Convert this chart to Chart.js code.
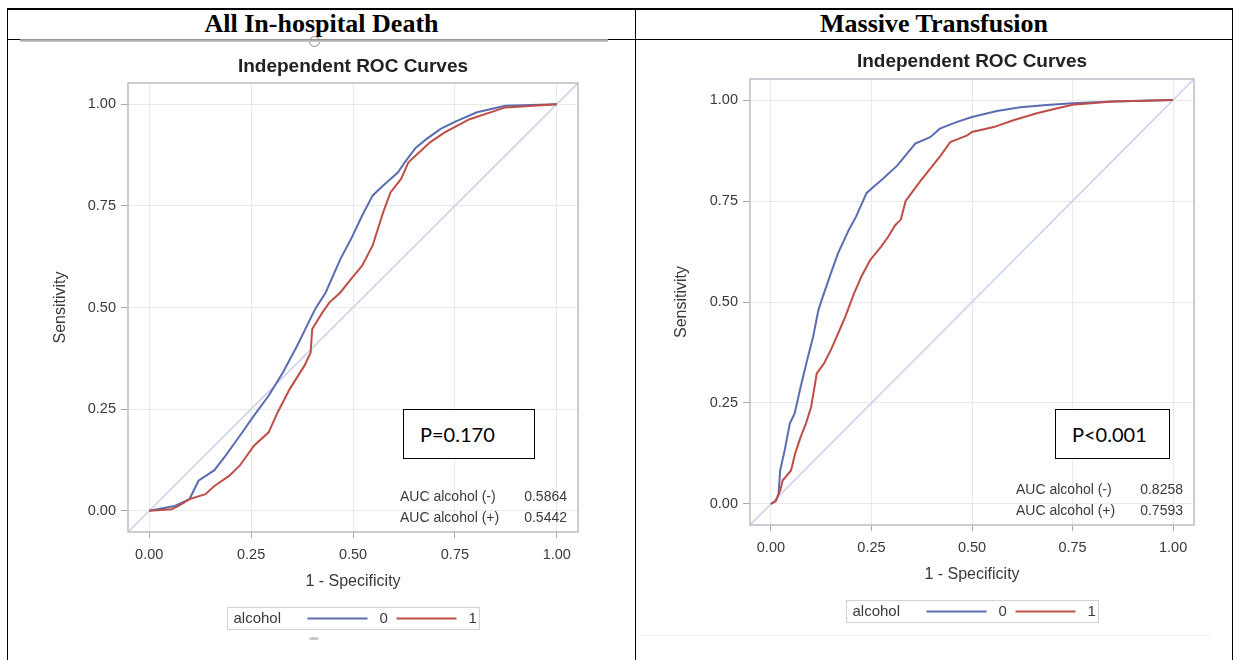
<!DOCTYPE html>
<html>
<head>
<meta charset="utf-8">
<title>Independent ROC Curves</title>
<script src="https://cdn.jsdelivr.net/npm/chart.js@4.4.0/dist/chart.umd.min.js"></script>
<style>
  html, body { margin: 0; padding: 0; background: #fff; }
  body { width: 1235px; height: 660px; position: relative; overflow: hidden; }
  .rule { position: absolute; background: #000; }
  .cell-head {
    position: absolute; top: 9px; height: 30px; line-height: 30px; text-align: center;
    font-family: "Liberation Serif", "Times New Roman", serif; font-weight: bold; font-size: 26px; color: #000;
  }
  .plot { position: absolute; top: 45px; }
  .pbox {
    position: absolute; box-sizing: border-box; border: 1px solid #000; background: #fff;
    font-family: Lato, "Open Sans", sans-serif; font-size: 20px; color: #000; line-height: 48px;
  }
  .handle-bar { position: absolute; left: 20px; top: 39px; width: 588px; height: 3px; background: linear-gradient(#8a8a8a, #d4d4d4); z-index: 2; }
  .handle-dot { position: absolute; left: 309px; top: 36px; width: 9px; height: 9px; border: 1px solid #8a8a8a; border-radius: 50%; background: #fff; z-index: 1; }
  .handle-low { position: absolute; left: 309px; top: 637px; width: 10px; height: 3px; border-radius: 50%; background: #c8c8c8; }
  .faint { position: absolute; left: 640px; top: 635px; width: 570px; height: 1px; background: #eeeeee; }
</style>
</head>
<body>
  <!-- table frame -->
  <div class="rule" style="left:7px; top:8px; width:1226px; height:2px;"></div>
  <div class="rule" style="left:7px; top:39px; width:1226px; height:1px;"></div>
  <div class="rule" style="left:7px; top:8px; width:1px; height:652px;"></div>
  <div class="rule" style="left:635px; top:8px; width:1px; height:652px;"></div>
  <div class="rule" style="left:1232px; top:8px; width:1px; height:652px;"></div>

  <div class="cell-head" style="left:8px; width:627px;">All In-hospital Death</div>
  <div class="cell-head" style="left:636px; width:596px;">Massive Transfusion</div>

  <div class="handle-dot"></div>
  <div class="handle-bar"></div>

  <canvas id="deathChart" class="plot" style="left:40px;" width="560" height="590"></canvas>
  <canvas id="transfusionChart" class="plot" style="left:660px;" width="560" height="590"></canvas>

  <div class="handle-low"></div>
  <div class="faint"></div>

  <div class="pbox" style="left:403px; top:409px; width:132px; height:50px; padding-left:16px;">P=0.170</div>
  <div class="pbox" style="left:1055px; top:409px; width:115px; height:50px; padding-left:16px;">P&lt;0.001</div>

<script>
  // axis ticks shared by both plots
  var tickValues = [0, 0.25, 0.5, 0.75, 1];
  var tickLabels = ["0.00", "0.25", "0.50", "0.75", "1.00"];
  var axisMin = -0.052;
  var axisMax = 1.052;

  var groupLabels = ["0", "1"];
  var aucLabels = ["AUC alcohol (-)", "AUC alcohol (+)"];

  // All in-hospital death: 1 - specificity / sensitivity per alcohol group
  var deathFpr0 = [0, 0.063, 0.099, 0.121, 0.16, 0.187, 0.222, 0.257, 0.293, 0.328, 0.363, 0.407, 0.433, 0.469, 0.495, 0.522, 0.548, 0.574, 0.61, 0.627, 0.654, 0.68, 0.715, 0.751, 0.804, 0.874, 1];
  var deathSens0 = [0, 0.012, 0.029, 0.074, 0.10, 0.135, 0.184, 0.234, 0.283, 0.34, 0.406, 0.496, 0.537, 0.619, 0.668, 0.725, 0.775, 0.80, 0.832, 0.857, 0.893, 0.914, 0.939, 0.957, 0.98, 0.996, 1];
  var deathFpr1 = [0, 0.055, 0.072, 0.099, 0.138, 0.16, 0.196, 0.222, 0.257, 0.293, 0.315, 0.345, 0.381, 0.396, 0.40, 0.425, 0.442, 0.469, 0.495, 0.522, 0.548, 0.561, 0.574, 0.592, 0.618, 0.636, 0.662, 0.689, 0.724, 0.786, 0.874, 1];
  var deathSens1 = [0, 0.004, 0.012, 0.029, 0.041, 0.061, 0.086, 0.111, 0.16, 0.193, 0.242, 0.30, 0.357, 0.389, 0.447, 0.488, 0.512, 0.537, 0.57, 0.602, 0.652, 0.693, 0.734, 0.783, 0.816, 0.857, 0.881, 0.906, 0.93, 0.963, 0.992, 1];
  var deathAuc = ["0.5864", "0.5442"];

  // Massive transfusion
  var transFpr0 = [0, 0.012, 0.019, 0.023, 0.034, 0.047, 0.059, 0.074, 0.092, 0.105, 0.118, 0.132, 0.149, 0.167, 0.194, 0.212, 0.238, 0.256, 0.273, 0.314, 0.359, 0.396, 0.42, 0.463, 0.5, 0.562, 0.62, 0.686, 0.75, 0.85, 1];
  var transSens0 = [0, 0.008, 0.025, 0.083, 0.132, 0.199, 0.224, 0.29, 0.364, 0.414, 0.48, 0.522, 0.571, 0.621, 0.679, 0.712, 0.77, 0.786, 0.80, 0.8375, 0.892, 0.908, 0.929, 0.946, 0.958, 0.973, 0.982, 0.9875, 0.992, 0.996, 1];
  var transFpr1 = [0, 0.012, 0.023, 0.029, 0.05, 0.06, 0.074, 0.087, 0.10, 0.114, 0.132, 0.149, 0.167, 0.185, 0.207, 0.225, 0.247, 0.274, 0.292, 0.309, 0.323, 0.335, 0.372, 0.422, 0.446, 0.488, 0.5, 0.554, 0.603, 0.661, 0.71, 0.75, 0.85, 1];
  var transSens1 = [0, 0.007, 0.033, 0.058, 0.083, 0.124, 0.166, 0.199, 0.24, 0.323, 0.348, 0.381, 0.422, 0.464, 0.522, 0.563, 0.604, 0.637, 0.662, 0.69, 0.704, 0.75, 0.80, 0.8625, 0.896, 0.9125, 0.921, 0.933, 0.95, 0.967, 0.979, 0.988, 0.996, 1];
  var transAuc = ["0.8258", "0.7593"];

  var FONT = '"Liberation Sans", Arial, sans-serif';
  var TEXT = "#3a3a3a";
  var lineColors = ["#5a6cb2", "#bf4e47"];

  Chart.defaults.font.family = FONT;
  Chart.defaults.color = TEXT;

  function toPoints(xs, ys) {
    return xs.map(function (x, i) { return { x: x, y: ys[i] }; });
  }

  // frame, AUC inset and the group legend below the axis
  var rocExtras = {
    id: "rocExtras",
    afterDraw: function (chart, args, opts) {
      var ctx = chart.ctx;
      var a = chart.chartArea;
      ctx.save();

      ctx.strokeStyle = "#b9bdc5";
      ctx.lineWidth = 1.5;
      ctx.strokeRect(a.left, a.top, a.right - a.left, a.bottom - a.top);

      ctx.font = "14px " + FONT;
      ctx.fillStyle = TEXT;
      ctx.textBaseline = "middle";
      opts.auc.forEach(function (val, i) {
        var y = a.bottom - 35 + i * 21;
        ctx.textAlign = "left";
        ctx.fillText(aucLabels[i], a.right - 178, y);
        ctx.textAlign = "right";
        ctx.fillText(val, a.right - 11, y);
      });

      // legend
      var w = 252, h = 22;
      var bx = Math.round((a.left + a.right) / 2 - w / 2) + 0.5;
      var by = Math.round(a.bottom + 75) + 0.5;
      ctx.strokeStyle = "#d2d2d2";
      ctx.lineWidth = 1;
      ctx.strokeRect(bx, by, w, h);
      ctx.font = "15px " + FONT;
      ctx.textAlign = "left";
      var cy = by + h / 2;
      ctx.fillText("alcohol", bx + 6, cy);
      var slots = [80, 169];
      groupLabels.forEach(function (lab, i) {
        var sx = bx + slots[i];
        ctx.strokeStyle = lineColors[i];
        ctx.lineWidth = 2;
        ctx.beginPath();
        ctx.moveTo(sx, cy);
        ctx.lineTo(sx + 60, cy);
        ctx.stroke();
        ctx.fillText(lab, sx + 72, cy);
      });
      ctx.restore();
    },
  };

  function makeRocChart(id, fpr0, sens0, fpr1, sens1, auc, lay) {
    var ctx = document.getElementById(id).getContext("2d");
    var axis = function (isX) {
      return {
        type: "linear",
        min: axisMin,
        max: axisMax,
        afterBuildTicks: function (scale) {
          scale.ticks = tickValues.map(function (v) { return { value: v }; });
        },
        afterFit: function (scale) {
          if (isX) scale.height = 68;
          else scale.width = lay.yWidth;
        },
        ticks: {
          color: TEXT,
          font: { size: 14.5 },
          padding: isX ? 8 : 5,
          maxRotation: 0,
          callback: function (v) {
            var k = tickValues.indexOf(v);
            return k < 0 ? "" : tickLabels[k];
          },
        },
        grid: { color: "#e9e9e9", tickColor: "#a6a9b0", tickLength: isX ? 6 : 7, lineWidth: 1 },
        border: { display: false },
        title: {
          display: true,
          text: isX ? "1 - Specificity" : "Sensitivity",
          color: TEXT,
          font: { size: 16 },
          padding: isX ? { top: 0, bottom: 8.4 } : { top: lay.yTitlePad, bottom: 0 },
        },
      };
    };

    return new Chart(ctx, {
      type: "line",
      data: {
        datasets: [
          {
            label: groupLabels[0],
            data: toPoints(fpr0, sens0),
            borderColor: lineColors[0],
            borderWidth: 2,
            pointRadius: 0,
            order: 1,
          },
          {
            label: groupLabels[1],
            data: toPoints(fpr1, sens1),
            borderColor: lineColors[1],
            borderWidth: 2,
            pointRadius: 0,
            order: 0,
          },
          {
            label: "chance",
            data: [{ x: axisMin, y: axisMin }, { x: axisMax, y: axisMax }],
            borderColor: "#c6d0ee",
            borderWidth: 1.5,
            pointRadius: 0,
            order: 2,
          },
        ],
      },
      options: {
        responsive: false,
        animation: false,
        devicePixelRatio: 1,
        events: [],
        layout: { padding: { left: 0, top: 0, right: lay.padRight, bottom: lay.padBottom } },
        scales: { x: axis(true), y: axis(false) },
        plugins: {
          legend: { display: false },
          tooltip: { enabled: false },
          title: {
            display: true,
            fullSize: false,
            text: "Independent ROC Curves",
            color: "#222",
            font: { size: 19, weight: "bold" },
            padding: { top: lay.titleTop, bottom: lay.titleBottom },
          },
          rocExtras: { auc: auc },
        },
      },
      plugins: [rocExtras],
    });
  }

  makeRocChart("deathChart", deathFpr0, deathSens0, deathFpr1, deathSens1, deathAuc,
    { yWidth: 88, yTitlePad: 11.4, padRight: 22, padBottom: 35, titleTop: 10.6, titleBottom: 4.6 });
  makeRocChart("transfusionChart", transFpr0, transSens0, transFpr1, transSens1, transAuc,
    { yWidth: 90, yTitlePad: 12.4, padRight: 26, padBottom: 42, titleTop: 5.6, titleBottom: 5.6 });
</script>
</body>
</html>
